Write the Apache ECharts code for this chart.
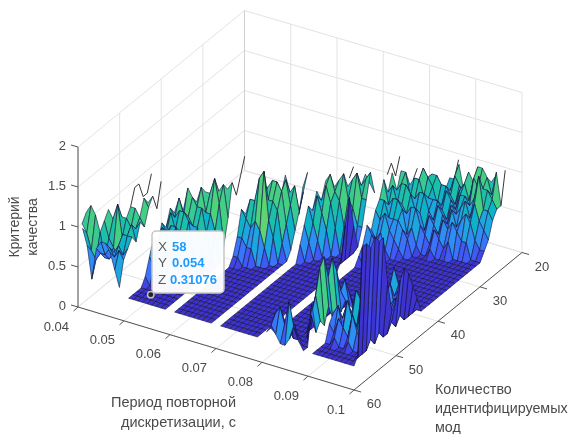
<!DOCTYPE html>
<html><head><meta charset="utf-8">
<style>html,body{margin:0;padding:0;background:#fff}#c{width:570px;height:434px}</style>
<script src="https://cdn.jsdelivr.net/npm/echarts@6/dist/echarts.min.js"></script>
</head><body><div id="c"></div>
<script>
// Axis ticks
const periodTicks = ['0.04','0.05','0.06','0.07','0.08','0.09','0.1'];
const modeTicks = [20,30,40,50,60];
const zTicks = ['0','0.5','1','1.5','2'];
const zTickValues = [0,0.5,1,1.5,2];
const periodStart = 0.04, periodStep = 0.001, modeFront = 60;
// Quality criterion in tenths. Each band is a list of period columns;
// each column runs from 60 modes (first value) downward, one mode per value.
const _ = null;
const band0 = [ // period 0.040 .. 0.049
[_,10,11],
[10,9,12],
[8,7,11],
[4,6,9,10,11],
[8,7,6,8,10,9],
[9,7,6,7,12,10],
[9,8,7,6,8,10,11,13,13,11,11,13],
[8,7,8,9,8,9,11],
[6,8,7,9,10,9,10,12,11],
[4,7,8,9,8,10,9,11,12,10,13]];
const band1 = [ // 0.051 .. 0.059
[3,3,3,3,4,6,8,7,9,8,10,9],
[3,3,3,3,3,5,7,9,8,10,9,11,9],
[3,3,3,3,3,4,6,8,9,8,10,9,12],
[3,3,3,3,3,3,4,7,9,8,10,9,11,10],
[3,3,3,3,3,3,3,3,5,7,9,8,10,12,11],
[3,3,3,3,3,3,3,3,3,3,5,8,10,9,11,10],
[3,3,3,3,3,3,3,3,3,3,3,4,7,9,13,11],
[3,3,3,3,3,3,3,3,3,3,3,3,4,7,10,12,11],
[3,3,3,3,3,3,3,3,3,3,3,3,3,3,5,8,12,10,12,14]];
const band2 = [ // 0.061 .. 0.069
[3,3,3,3,3,3,3,3,3,3,3,3,3,3,4,6,9,8],
[3,3,3,3,3,3,3,3,3,3,3,3,3,3,4,6,8,10,9],
[3,3,3,3,3,3,3,3,3,3,3,3,3,3,3,5,7,10,9,11],
[3,3,3,3,3,3,3,3,3,3,3,3,3,3,3,5,8,13,10,11],
[3,3,3,3,3,3,3,3,3,3,3,3,3,3,3,3,7,14,10,12,9],
[3,3,3,3,3,3,3,3,3,3,3,3,3,3,3,3,5,8,10,12,10,12],
[3,3,3,3,3,3,3,3,3,3,3,3,3,3,3,3,3,6,9,11,12,10],
[3,3,3,3,3,3,3,3,3,3,3,3,3,3,3,3,3,3,5,7,9,11,7,10],
[3,3,3,3,3,3,3,3,3,3,3,3,3,3,3,3,3,3,3,4,6,8,10,12,_,_,_,_,_,_,_,_,_,7,8]];
const band3 = [ // 0.071 .. 0.079
[3,3,3,3,3,3,3,3,3,3,3,3,3,3,3,3,3,3,3,5,7,9,8,10],
[3,3,3,3,3,3,3,3,3,3,3,3,3,3,3,3,3,3,3,3,5,7,10,9,11],
[3,3,3,3,3,3,3,3,3,3,3,3,3,3,3,3,3,3,3,3,3,5,8,11,12,10],
[3,3,3,3,3,3,3,3,3,3,3,3,3,3,3,3,3,3,3,3,3,3,6,9,10,11],
[3,3,3,3,3,3,3,3,3,3,3,3,3,3,3,3,3,3,3,3,3,3,3,6,9,12,10],
[3,3,3,3,3,3,3,3,3,3,3,3,3,3,3,3,3,3,3,3,3,3,3,3,6,9,11,10],
[3,3,3,3,3,3,3,3,3,3,3,3,3,3,3,3,3,3,3,3,3,3,3,3,5,8,12,10,11],
[3,3,3,3,3,3,3,3,3,3,3,3,3,3,3,3,3,3,3,3,3,3,3,3,3,6,9,11,10],
[3,3,3,3,3,3,3,3,3,3,3,3,3,3,3,3,3,3,3,3,4,8,11,7,4,6,9,12,9,_,_,10,11,9,11]];
const band4 = [ // 0.081 .. 0.089
[4,4,3,3,3,3,3,3,3,3,3,3,3,3,3,3,3,3,3,3,3,3,4,5,7,6,8,9,11,9,11,_,_,_,_,8,9],
[5,6,4,3,3,3,3,3,3,3,3,3,3,3,3,3,3,3,3,3,3,3,3,4,6,5,7,9,8,10,9,11],
[4,7,5,3,3,3,3,3,3,3,3,3,3,3,3,3,3,3,3,3,3,3,3,3,5,6,8,7,9,8,10,11,9],
[3,5,4,3,3,3,3,3,3,3,3,3,3,3,3,3,3,3,3,3,3,3,3,3,3,4,6,7,9,8,10,8,10,9],
[3,8,3,3,3,3,3,3,3,3,3,3,3,3,3,3,3,3,3,3,3,3,3,3,3,3,5,7,8,7,9,8,10,11,9],
[4,5,3,3,3,3,3,3,3,3,3,3,3,3,3,3,3,3,3,3,3,3,3,3,3,3,4,6,5,8,7,9,8,10,10],
[6,4,3,3,5,7,9,7,6,4,3,3,3,3,3,3,3,3,3,3,3,3,3,3,3,3,3,5,6,8,7,9,8,9,10,8],
[4,3,3,6,8,11,12,9,11,9,6,7,5,3,3,3,3,3,3,3,3,3,3,3,3,3,3,3,4,6,5,7,8,7,9,8,9],
[3,3,8,4,5,4,6,4,5,4,5,4,3,3,3,3,3,3,3,3,3,3,3,3,3,3,3,3,3,5,7,6,8,7,9,8,9,11]];
const band5 = [ // 0.090 .. 0.100, the 0.090 column only exists below 44 modes
[_,_,_,_,_,_,_,_,_,_,_,_,_,_,_,_,3,3,3,3,3,3,3,3,3,3,3,3,3,4,6,8,7,9,8,10,11],
[3,3,3,3,5,6,4,3,4,3,3,3,3,3,3,3,3,3,3,3,3,3,3,3,3,3,3,3,4,6,5,7,6,8,7,9,8],
[3,3,3,3,4,7,5,6,3,4,3,3,3,3,3,3,3,3,3,3,3,3,3,3,3,3,3,3,3,5,7,6,8,7,9,8,10],
[3,3,3,4,6,4,7,5,4,3,3,3,3,3,3,3,3,3,3,3,3,3,3,3,3,3,3,3,3,4,6,8,7,9,10,11],
[3,3,3,3,5,8,6,5,7,4,3,4,3,3,3,3,3,3,3,3,3,3,3,3,3,3,3,3,3,5,7,6,8,9,8,10],
[3,3,3,3,4,6,9,7,5,6,4,5,4,5,6,8,5,3,3,3,3,3,3,3,3,3,3,3,3,3,6,7,9,8,11,12,10],
[3,3,3,4,7,5,8,6,7,5,6,4,6,7,5,6,4,3,3,3,3,3,3,3,3,3,3,3,3,3,5,8,7,9,10,12],
[3,3,3,3,5,8,6,7,5,4,5,7,5,4,6,5,3,3,3,3,3,3,3,3,3,3,3,3,3,3,5,7,9,12,10,11,10],
[3,3,3,3,4,5,4,6,4,3,4,5,6,5,4,3,3,3,3,3,3,3,3,3,3,3,3,3,3,3,3,5,7,8,10,9,11],
[3,3,3,3,3,4,3,4,3,3,4,3,4,3,3,3,3,3,3,3,3,3,3,3,3,3,3,3,3,3,3,4,6,8,9,12],
[3,4,17,17,16,17,16,16,10,6,7,9,10,9,7,5,3,3,3,3,3,3,3,3,3,3,3,3,3,3,3,4,5,7,8,8,12]];
const bands = [band0, band1, band2, band3, band4, band5];
const bandFirstColumn = [0, 11, 21, 31, 41, 50];
// Data tip
const tip = {mode: 58, period: 0.054, z: 0.31076};
const tipLabels = [['X','58'],['Y','0.054'],['Z','0.31076']];
// Colour per tenth of the criterion
const palette = ['#3b1fa8','#3d25b8','#3e2bc6','#3f33cf','#4045e6','#3f5af5','#3a74fb','#2e8ff2','#1ea6e0','#0fb3c8','#1cc0a8','#38ca90','#45cf82','#4ed27c','#60d472','#78d660','#90d850','#a8d840','#c0d830','#d8d820','#f0e010'];

// View geometry (orthographic box)
const A=[78,307], B=[354,390], C=[522,252.5], D=[244.5,170.5], zPx=80;
const NI=60, NK=40;
function project(u,v,z){ // u: 0..1 along period, v: 0..1 along modes towards 20
  const x=(1-u)*(1-v)*A[0]+u*(1-v)*B[0]+u*v*C[0]+(1-u)*v*D[0];
  const y=(1-u)*(1-v)*A[1]+u*(1-v)*B[1]+u*v*C[1]+(1-u)*v*D[1];
  return [x,y-z*zPx];
}
const periodU=p=>(p-periodStart)/0.06, modeV=m=>(modeFront-m)/40;
const P=(i,k,t)=>project(i/NI,k/NK,t/10);

// Build the z matrix from the bands
const grid=[]; for(let i=0;i<=NI;i++){grid.push(new Array(NK+1).fill(null));}
bands.forEach((b,bi)=>b.forEach((col,ci)=>col.forEach((t,k)=>{grid[bandFirstColumn[bi]+ci][k]=t;})));
const val=(i,k)=>(i<0||k<0||i>NI||k>NK)?null:grid[i][k];
const full=(i,k)=>val(i,k)!=null&&val(i+1,k)!=null&&val(i,k+1)!=null&&val(i+1,k+1)!=null;
const cells=[];
for(let i=0;i<=NI;i++){for(let k=NK;k>=0;k--){
  if(i<NI&&k<NK&&full(i,k)) cells.push({t:'q',i,k});
  if(k<NK&&val(i,k)!=null&&val(i,k+1)!=null&&!full(i,k)&&!full(i-1,k)) cells.push({t:'l',a:[i,k],b:[i,k+1]});
  if(i<NI&&val(i,k)!=null&&val(i+1,k)!=null&&!full(i,k)&&!full(i,k-1)) cells.push({t:'l',a:[i,k],b:[i+1,k]});
}}
const EDGE='#14143c';
function renderCell(params){
  const c=cells[params.dataIndex];
  if(c.t==='q'){
    const {i,k}=c;
    const pts=[P(i,k,val(i,k)),P(i+1,k,val(i+1,k)),P(i+1,k+1,val(i+1,k+1)),P(i,k+1,val(i,k+1))];
    return {type:'polygon',shape:{points:pts},style:{fill:palette[val(i,k+1)],stroke:EDGE,lineWidth:0.6}};
  }
  const p1=P(c.a[0],c.a[1],val(c.a[0],c.a[1])),p2=P(c.b[0],c.b[1],val(c.b[0],c.b[1]));
  return {type:'line',shape:{x1:p1[0],y1:p1[1],x2:p2[0],y2:p2[1]},style:{stroke:'#222',lineWidth:0.9}};
}
const line=(a,b,stroke,w)=>({type:'line',shape:{x1:a[0],y1:a[1],x2:b[0],y2:b[1]},style:{stroke,lineWidth:w}});
const FONT='"Liberation Sans",Arial,sans-serif';
const text=(s,x,y,align,size,fill,rot,bold)=>({type:'text',x,y,rotation:rot||0,style:{text:s,x:0,y:0,align,verticalAlign:'middle',fill,font:(bold?'bold ':'')+size+'px '+FONT}});

// Grid walls
const GRID='#e3e3e3', AX='#555555', LBL='#4a4a4a';
const back=[];
zTickValues.forEach(z=>{
  back.push(line(project(0,0,z),project(0,1,z),GRID,1));
  back.push(line(project(0,1,z),project(1,1,z),GRID,1));
});
periodTicks.forEach((t,n)=>{const u=n/6;
  back.push(line(project(u,0,0),project(u,1,0),GRID,1));
  back.push(line(project(u,1,0),project(u,1,2),GRID,1));
});
modeTicks.forEach(m=>{const v=modeV(m);
  back.push(line(project(0,v,0),project(1,v,0),GRID,1));
  back.push(line(project(0,v,0),project(0,v,2),GRID,1));
});
back.push(line(project(0,1,0),project(0,1,2),'#cfcfcf',1));

// Axes, ticks and labels
const front=[];
front.push(line(project(0,0,0),project(1,0,0),AX,1));
front.push(line(project(1,0,0),project(1,1,0),AX,1));
front.push(line(project(0,0,0),project(0,0,2),AX,1));
periodTicks.forEach((t,n)=>{const u=n/6,p=project(u,0,0);
  front.push(line(p,[p[0]-4.5,p[1]+4],AX,1));
  front.push(text(t,p[0]-9,p[1]+20,'right',13,LBL));
});
modeTicks.forEach(m=>{const p=project(1,modeV(m),0);
  front.push(line(p,[p[0]+7,p[1]+2],AX,1));
  front.push(text(String(m),p[0]+20,p[1]+14.5,'center',13,LBL));
});
zTicks.forEach((t,n)=>{const p=project(0,0,zTickValues[n]);
  front.push(line(p,[p[0]-7,p[1]-2],AX,1));
  front.push(text(t,66,p[1]-0.5,'right',13,LBL));
});
front.push(text('Критерий',15,227,'center',14,LBL,Math.PI/2));
front.push(text('качества',33,227,'center',14,LBL,Math.PI/2));
front.push(text('Период повторной',236,403,'right',14.5,LBL));
front.push(text('дискретизации, с',236,423,'right',14.5,LBL));
front.push(text('Количество',435,390,'left',14.3,LBL));
front.push(text('идентифицируемых',435,409,'left',14.3,LBL));
front.push(text('мод',435,428,'left',14.3,LBL));

// Data tip
const tp=project(periodU(tip.period),modeV(tip.mode),tip.z);
const tipEls=[
 {type:'circle',shape:{cx:tp[0],cy:tp[1],r:3.2},style:{fill:'#222',stroke:'#bdbdbd',lineWidth:1.5}},
 {type:'rect',shape:{x:152,y:231,width:72,height:62,r:4},style:{fill:'rgba(255,255,255,0.97)',stroke:'#c6c6c6',lineWidth:1.5}}
];
tipLabels.forEach((r,n)=>{const y=247+n*16.5;
 tipEls.push(text(r[0],158,y,'left',13.5,'#5a5a5a'));
 tipEls.push(text(r[1],n===2?170:172,y,'left',13,'#1e9bff',0,true));
});

const group=els=>(()=>({type:'group',children:els}));
const chart=echarts.init(document.getElementById('c'),null,{renderer:'canvas'});
chart.setOption({
 animation:false,backgroundColor:'#fff',
 series:[
  {type:'custom',coordinateSystem:'none',silent:true,z:1,data:[0],renderItem:group(back)},
  {type:'custom',coordinateSystem:'none',silent:true,z:2,progressive:0,data:cells.map((c,n)=>[n]),renderItem:renderCell},
  {type:'custom',coordinateSystem:'none',silent:true,z:3,data:[0],renderItem:group(front)},
  {type:'custom',coordinateSystem:'none',silent:true,z:4,data:[0],renderItem:group(tipEls)}
 ]
});
</script></body></html>
